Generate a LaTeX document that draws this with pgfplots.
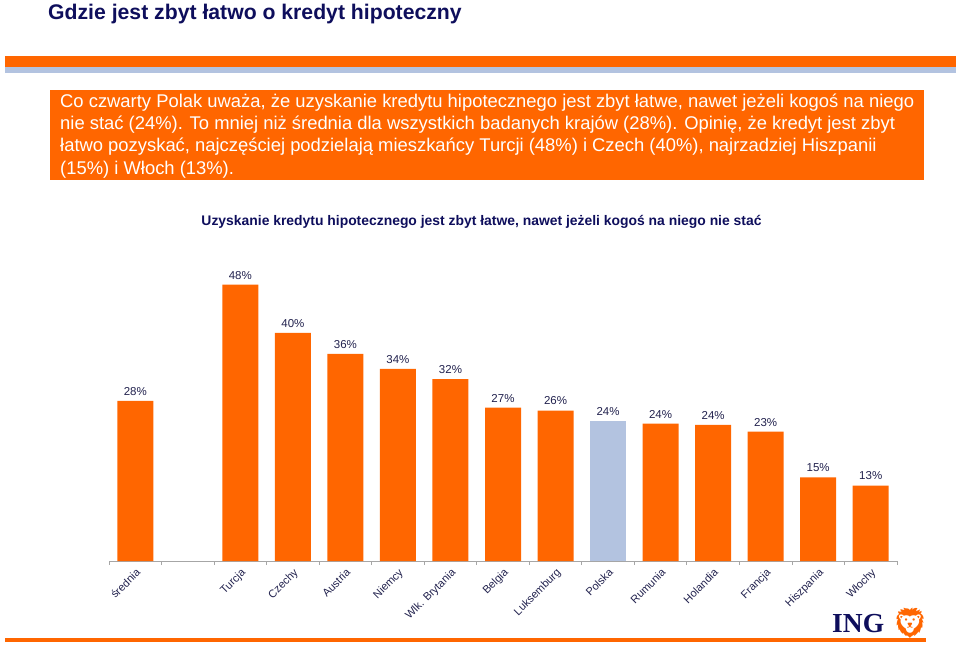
\documentclass[border=0pt]{standalone}
\usepackage{pgfplots}
\pgfplotsset{compat=1.18}
\usepackage{fontspec}
\setmainfont{Liberation Sans}
\newfontfamily\serifing{Liberation Serif}
\newfontfamily\emoji{Noto Emoji}
\definecolor{ingorange}{HTML}{FF6600}
\definecolor{polblue}{HTML}{B3C3E0}
\definecolor{navy}{HTML}{0E0E5C}
\definecolor{labnavy}{HTML}{22224E}
\begin{document}
\begin{tikzpicture}[x=1pt,y=1pt]
\useasboundingbox (0,0) rectangle (960,-645);
% header
\node[anchor=base west, inner sep=0, text=navy, font=\fontsize{21.2}{24}\selectfont\bfseries] at (48,-19) {Gdzie jest zbyt łatwo o kredyt hipoteczny};
\fill[ingorange] (5,-56) rectangle (956,-67.3);
\fill[polblue] (5,-67.3) rectangle (956,-72.7);
% text box
\fill[ingorange] (50,-90) rectangle (924,-180);
\node[anchor=north west, inner sep=0, text=white, align=left, font=\fontsize{18.4}{22.3}\selectfont] at (60,-93.5) {Co czwarty Polak uważa, że uzyskanie kredytu hipotecznego jest zbyt łatwe, nawet jeżeli kogoś na niego\\nie stać (24\%). To mniej niż średnia dla wszystkich badanych krajów (28\%). Opinię, że kredyt jest zbyt\\łatwo pozyskać, najczęściej podzielają mieszkańcy Turcji (48\%) i Czech (40\%), najrzadziej Hiszpanii\\(15\%) i Włoch (13\%).};
% chart title
\node[anchor=base, inner sep=0, text=navy, font=\fontsize{13.9}{16}\selectfont\bfseries] at (481.5,-225) {Uzyskanie kredytu hipotecznego jest zbyt łatwe, nawet jeżeli kogoś na niego nie stać};
\begin{axis}[
  at={(109pt,-561pt)}, anchor=south west,
  scale only axis, width=788pt, height=314.6pt,
  xmin=-0.5, xmax=14.5, ymin=0, ymax=55,
  axis x line*=bottom, axis y line=none,
  x axis line style={draw=gray!70, line width=0.8pt},
  xtick={0,...,14},
  xticklabels={średnia,,Turcja,Czechy,Austria,Niemcy,Wlk. Brytania,Belgia,Luksemburg,Polska,Rumunia,Holandia,Francja,Hiszpania,Włochy},
  major tick length=0pt,
  minor xtick={-0.5,0.5,...,14.5},
  minor tick length=4pt, tick align=outside,
  minor tick style={draw=gray!70, line width=0.8pt},
  xticklabel shift=5pt,
  xticklabel style={rotate=45, anchor=north east, font=\fontsize{11}{13}\selectfont, text=labnavy, inner sep=1pt},
  ybar, bar width=36pt, bar shift=0pt,
  nodes near coords, point meta=explicit symbolic,
  every node near coord/.append style={font=\fontsize{11.5}{13}\selectfont, text=labnavy, yshift=2pt},
  clip=false,
]
\addplot[fill=ingorange, draw=none] coordinates {
 (0,28) [28\%]
 (2,48.3) [48\%]
 (3,39.9) [40\%]
 (4,36.2) [36\%]
 (5,33.6) [34\%]
 (6,31.8) [32\%]
 (7,26.8) [27\%]
 (8,26.3) [26\%]
 (10,24.0) [24\%]
 (11,23.8) [24\%]
 (12,22.6) [23\%]
 (13,14.6) [15\%]
 (14,13.2) [13\%]
};
\addplot[fill=polblue, draw=none] coordinates {(9,24.4) [24\%]};
\end{axis}
% footer
\fill[ingorange] (5,-638.3) rectangle (926,-642.3);
\node[anchor=base west, inner sep=0, text=navy, font=\serifing\fontsize{27.5}{30}\selectfont\bfseries] at (832,-632) {ING};
\node[anchor=base west, inner sep=0, text=ingorange, font=\emoji\fontsize{30}{32}\selectfont] at (891,-633) {🦁};
\end{tikzpicture}
\end{document}
